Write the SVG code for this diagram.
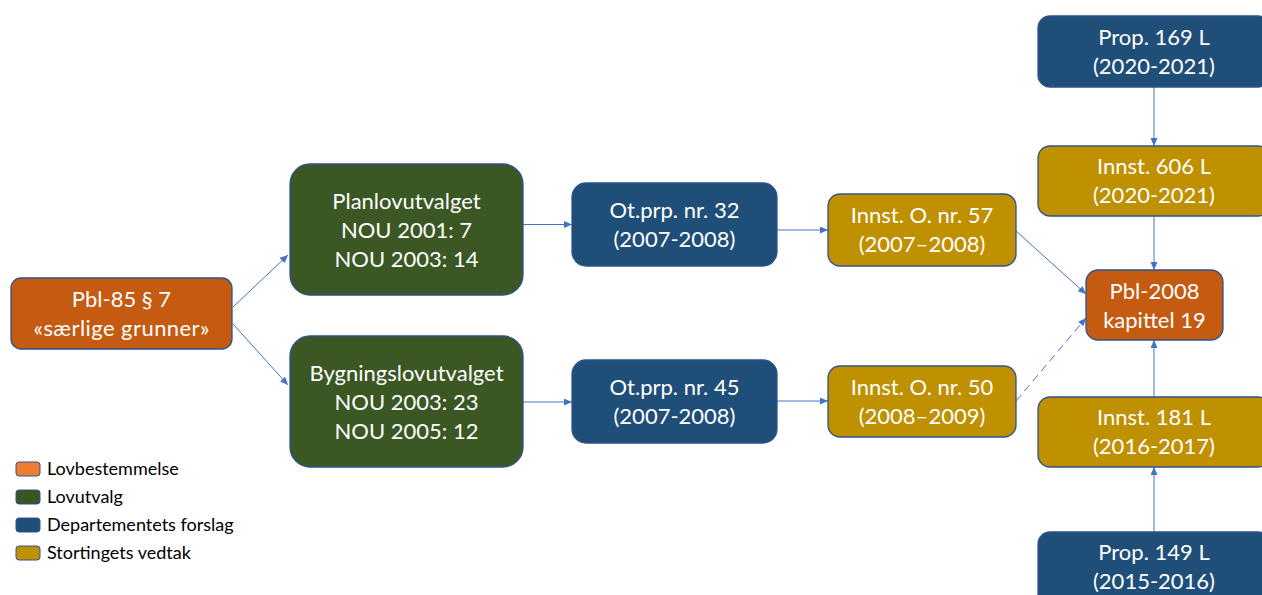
<svg xmlns="http://www.w3.org/2000/svg" width="1262" height="595" viewBox="0 0 1262 595">
<defs>
<marker id="arr" markerUnits="userSpaceOnUse" markerWidth="9" markerHeight="8" refX="8" refY="3.5" orient="auto">
<path d="M0,0 L8,3.5 L0,7 z" fill="#4472C4"/>
</marker>
<style>
.box{stroke:#2F528F;stroke-width:1.3}
.law{fill:#C55A11}
.com{fill:#3A5724}
.dep{fill:#1F4E79}
.sto{fill:#BF9000}
.t{font-family:Lato,"Liberation Sans",sans-serif;font-size:22px;fill:#FFFFFF;text-anchor:middle}
.c{fill:none;stroke:#4472C4;stroke-width:1;marker-end:url(#arr)}
.lg{font-family:Lato,"Liberation Sans",sans-serif;font-size:18px;fill:#000000}
</style>
</defs>
<rect width="1262" height="595" fill="#FFFFFF"/>

<g id="connectors">
<line class="c" x1="233" y1="307" x2="288" y2="255"/>
<line class="c" x1="233" y1="324" x2="288" y2="385"/>
<line class="c" x1="523" y1="224.5" x2="572" y2="224.5"/>
<line class="c" x1="523" y1="402" x2="572" y2="402"/>
<line class="c" x1="777" y1="230" x2="828" y2="230"/>
<line class="c" x1="777" y1="401" x2="828" y2="401"/>
<line class="c" x1="1016" y1="231" x2="1086" y2="294"/>
<line class="c" x1="1016" y1="401" x2="1086" y2="318" stroke-dasharray="8,5"/>
<line class="c" x1="1154" y1="87" x2="1154" y2="146"/>
<line class="c" x1="1154" y1="216" x2="1154" y2="270"/>
<line class="c" x1="1154" y1="397" x2="1154" y2="340"/>
<line class="c" x1="1154" y1="532" x2="1154" y2="467"/>
</g>

<g id="pbl85">
<rect class="box law" x="11" y="278" width="221" height="71" rx="10"/>
<text class="t" x="121.5" y="307">Pbl-85 § 7</text>
<text class="t" x="121.5" y="336" textLength="176" lengthAdjust="spacing">«særlige grunner»</text>
</g>

<g id="planlov">
<rect class="box com" x="290" y="164" width="233" height="131" rx="20"/>
<text class="t" x="406.5" y="209">Planlovutvalget</text>
<text class="t" x="406.5" y="238">NOU 2001: 7</text>
<text class="t" x="406.5" y="267">NOU 2003: 14</text>
</g>

<g id="bygnings">
<rect class="box com" x="290" y="336" width="233" height="131" rx="20"/>
<text class="t" x="406.5" y="381">Bygningslovutvalget</text>
<text class="t" x="406.5" y="410">NOU 2003: 23</text>
<text class="t" x="406.5" y="439">NOU 2005: 12</text>
</g>

<g id="otprp32">
<rect class="box dep" x="572" y="183" width="205" height="83" rx="14"/>
<text class="t" x="674.5" y="218">Ot.prp. nr. 32</text>
<text class="t" x="674.5" y="247">(2007-2008)</text>
</g>

<g id="otprp45">
<rect class="box dep" x="572" y="360" width="205" height="83" rx="14"/>
<text class="t" x="674.5" y="395">Ot.prp. nr. 45</text>
<text class="t" x="674.5" y="424">(2007-2008)</text>
</g>

<g id="innst57">
<rect class="box sto" x="828" y="194" width="188" height="72" rx="12"/>
<text class="t" x="922" y="223">Innst. O. nr. 57</text>
<text class="t" x="922" y="252">(2007–2008)</text>
</g>

<g id="innst50">
<rect class="box sto" x="828" y="366" width="188" height="71" rx="12"/>
<text class="t" x="922" y="395">Innst. O. nr. 50</text>
<text class="t" x="922" y="424">(2008–2009)</text>
</g>

<g id="pbl2008">
<rect class="box law" x="1086" y="270" width="137" height="70" rx="12"/>
<text class="t" x="1154.5" y="299">Pbl-2008</text>
<text class="t" x="1154.5" y="328">kapittel 19</text>
</g>

<g id="prop169">
<rect class="box dep" x="1038" y="16" width="232" height="71" rx="12"/>
<text class="t" x="1154" y="45">Prop. 169 L</text>
<text class="t" x="1154" y="74">(2020-2021)</text>
</g>

<g id="innst606">
<rect class="box sto" x="1038" y="146" width="232" height="70" rx="12"/>
<text class="t" x="1154" y="174">Innst. 606 L</text>
<text class="t" x="1154" y="203">(2020-2021)</text>
</g>

<g id="innst181">
<rect class="box sto" x="1038" y="397" width="232" height="70" rx="12"/>
<text class="t" x="1154" y="425">Innst. 181 L</text>
<text class="t" x="1154" y="454">(2016-2017)</text>
</g>

<g id="prop149">
<rect class="box dep" x="1038" y="532" width="232" height="75" rx="12"/>
<text class="t" x="1154" y="560">Prop. 149 L</text>
<text class="t" x="1154" y="589">(2015-2016)</text>
</g>

<g id="legend">
<rect x="16" y="462" width="24" height="14" rx="3" fill="#ED7D31" stroke="#2F528F" stroke-width="1"/>
<text class="lg" x="47" y="475">Lovbestemmelse</text>
<rect x="16" y="490" width="24" height="14" rx="3" fill="#375623" stroke="#2F528F" stroke-width="1"/>
<text class="lg" x="47" y="503">Lovutvalg</text>
<rect x="16" y="518" width="24" height="14" rx="3" fill="#1F4E79" stroke="#2F528F" stroke-width="1"/>
<text class="lg" x="47" y="531">Departementets forslag</text>
<rect x="16" y="546" width="24" height="14" rx="3" fill="#BF9000" stroke="#2F528F" stroke-width="1"/>
<text class="lg" x="47" y="559">Stortingets vedtak</text>
</g>
</svg>
